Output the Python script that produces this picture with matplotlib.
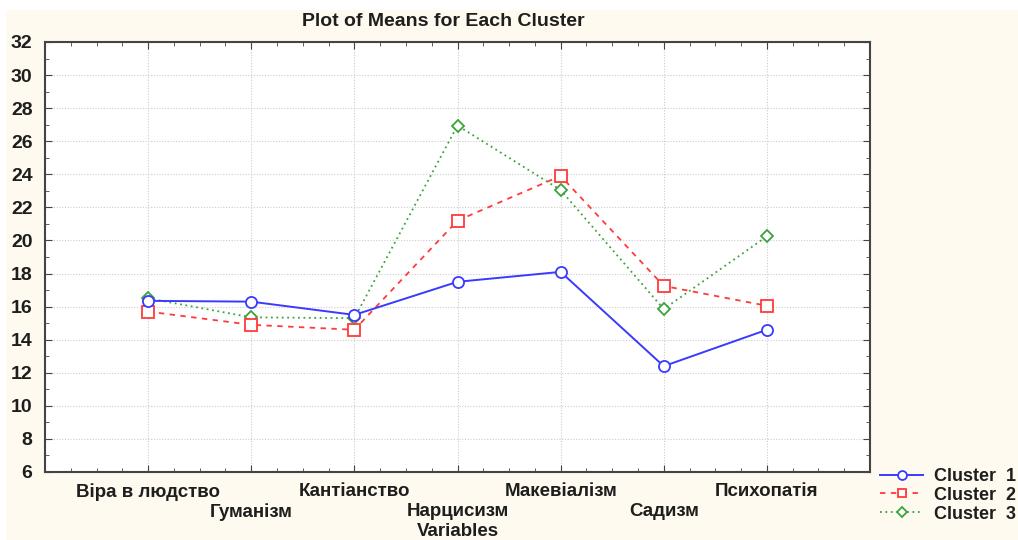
import matplotlib
matplotlib.use("Agg")
import matplotlib.pyplot as plt
from matplotlib.ticker import MultipleLocator, FixedLocator
from matplotlib.patches import Rectangle

categories = ["Віра в людство", "Гуманізм", "Кантіанство", "Нарцисизм",
              "Макевіалізм", "Садизм", "Психопатія"]
cluster1 = [16.35, 16.3, 15.5, 17.5, 18.1, 12.4, 14.6]
cluster2 = [15.7, 14.9, 14.6, 21.2, 23.9, 17.25, 16.05]
cluster3 = [16.5, 15.35, 15.3, 26.95, 23.05, 15.85, 20.25]
series_names = ["Cluster  1", "Cluster  2", "Cluster  3"]
yticks = [6, 8, 10, 12, 14, 16, 18, 20, 22, 24, 26, 28, 30, 32]

plt.rcParams['font.family'] = ['Liberation Sans', 'DejaVu Sans']
bg = "#fffaef"
txt = "#1e1e1e"
fig = plt.figure(figsize=(10.18, 5.4), dpi=100, facecolor=bg)
fig.patches.append(Rectangle((0, 1 - 10/540), 1, 10/540, transform=fig.transFigure,
                             facecolor="white", edgecolor="none", zorder=-1))
fig.patches.append(Rectangle((0, 0), 6/1018, 1, transform=fig.transFigure,
                             facecolor="white", edgecolor="none", zorder=-1))

L, R, T, B = 45, 870, 42, 472
ax = fig.add_axes([L/1018, 1 - B/540, (R-L)/1018, (B-T)/540])
ax.set_facecolor("white")

x = list(range(1, len(categories) + 1))
ax.plot(x, cluster1, color="#3a3aff", lw=1.4, ls="-", marker="o", ms=8,
        mfc="white", mec="#3a3aff", mew=1.3, label=series_names[0], zorder=5)
ax.plot(x, cluster2, color="#ff3a3a", lw=1.3, ls=(0, (3, 3)), marker="s", ms=8,
        mfc="white", mec="#ff3a3a", mew=1.3, label=series_names[1], zorder=4)
ax.plot(x, cluster3, color="#3aa33a", lw=1.3, ls=(0, (1, 2)), marker="D", ms=6,
        mfc="white", mec="#3aa33a", mew=1.3, label=series_names[2], zorder=3)

ax.set_xlim(0, len(categories) + 1)
ax.set_ylim(yticks[0], yticks[-1])
ax.xaxis.set_major_locator(FixedLocator(x))
ax.xaxis.set_minor_locator(MultipleLocator(0.25))
ax.yaxis.set_major_locator(FixedLocator(yticks))
ax.yaxis.set_minor_locator(MultipleLocator(1))
labels = [c if i % 2 == 0 else "\n" + c for i, c in enumerate(categories)]
ax.set_xticklabels(labels, fontsize=13.5, color=txt, fontweight="bold")
for t in ax.get_yticklabels():
    t.set_fontweight("bold")
ax.tick_params(axis='y', labelsize=14, labelcolor=txt)
ax.tick_params(which='both', direction='in', top=True, right=True, color="#444444")
ax.tick_params(which='major', length=5)
ax.tick_params(which='minor', length=3)
ax.tick_params(axis='x', which='major', pad=8)
ax.tick_params(axis='y', which='major', pad=9)
ax.grid(True, which='major', color="#cccccc", ls=(0, (1, 1.5)), lw=0.8)
for s in ax.spines.values():
    s.set_color("#444444")
    s.set_linewidth(1.5)

fig.text(443/1018, 1 - 22/540, "Plot of Means for Each Cluster", fontsize=14,
         fontweight="bold", color=txt, ha="center", va="center")
fig.text(458/1018, 1 - 532/540, "Variables", fontsize=13.5,
         fontweight="bold", color=txt, ha="center", va="center")

leg = fig.legend(loc="upper left", bbox_to_anchor=(880/1018, 1 - 468/540),
                 frameon=False, prop={"size": 13, "weight": "bold"},
                 handlelength=2.4, labelspacing=0.1, markerscale=0.8,
                 handletextpad=0.6, borderaxespad=0, borderpad=0)
for t in leg.get_texts():
    t.set_color(txt)

fig.savefig("out.png", dpi=100, facecolor=bg)
